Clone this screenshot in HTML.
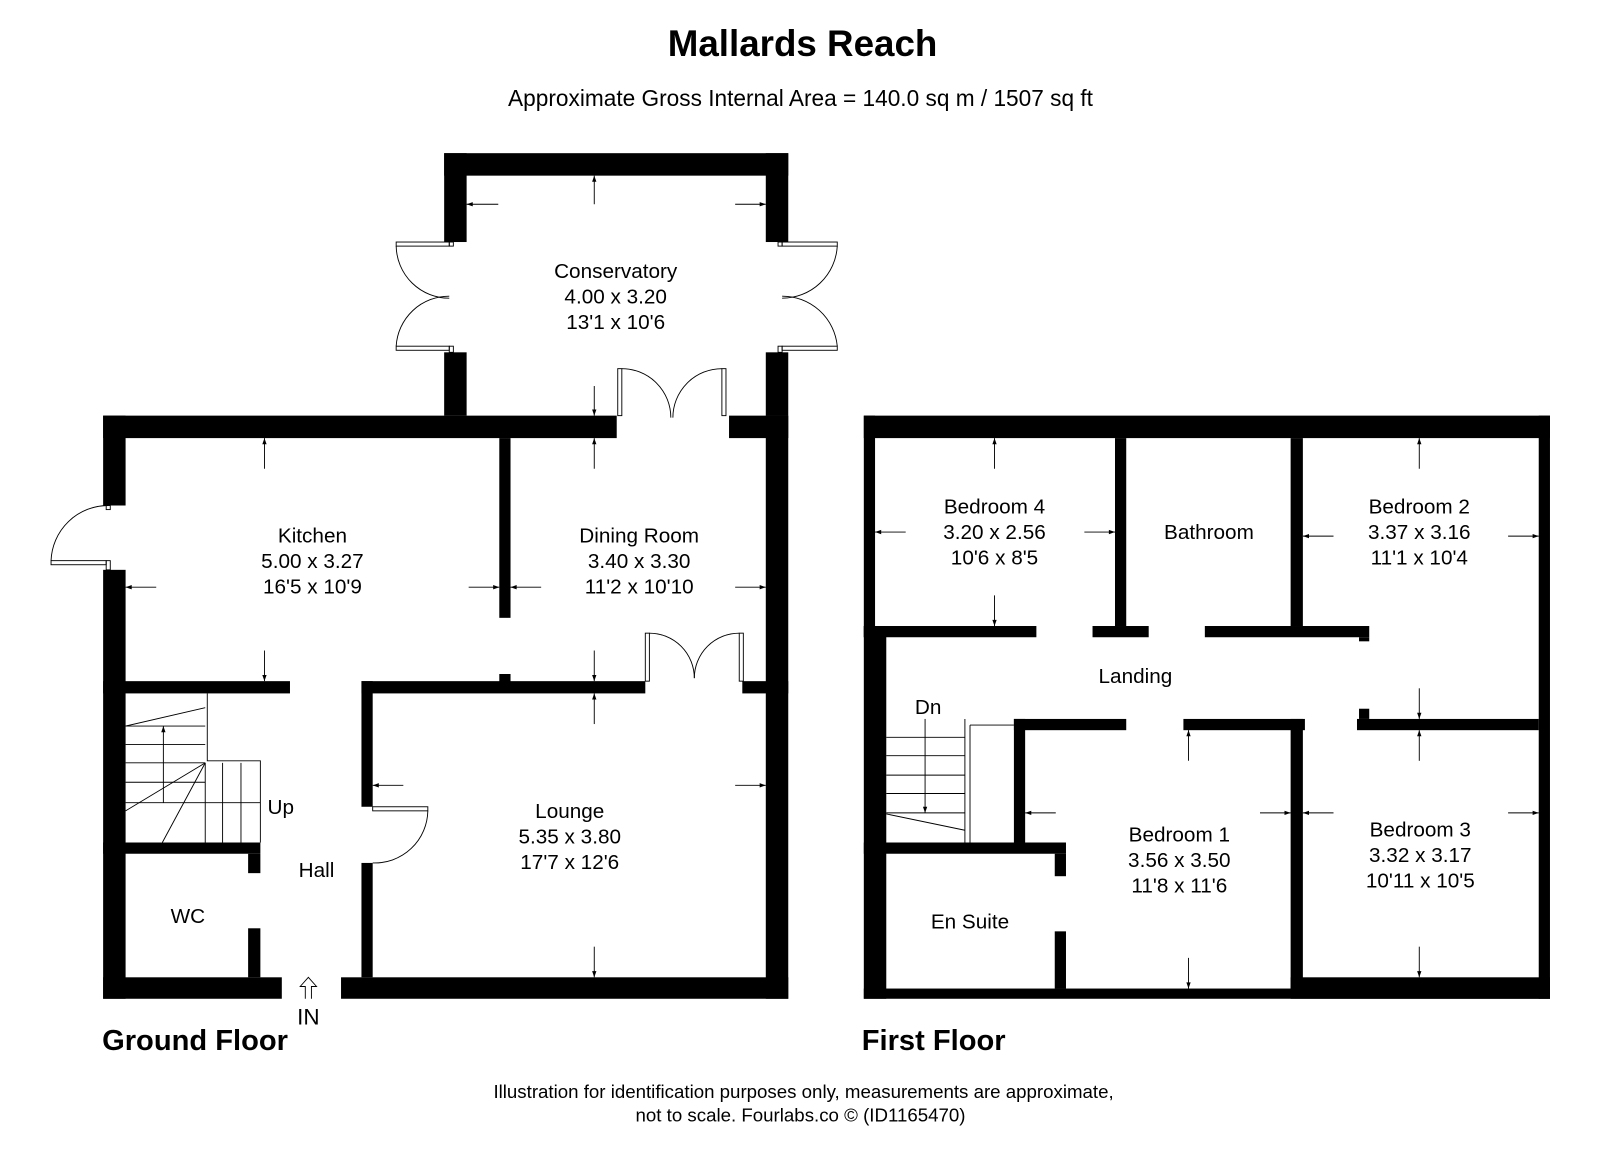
<!DOCTYPE html>
<html><head><meta charset="utf-8"><style>html,body{margin:0;padding:0;background:#fff}svg{display:block}text{font-family:"Liberation Sans",Arial,sans-serif;fill:#000}</style></head>
<body>
<svg width="1600" height="1155" viewBox="0 0 1567 1131" preserveAspectRatio="none" xmlns="http://www.w3.org/2000/svg">
<defs><marker id="a" viewBox="0 0 10 10" refX="10" refY="5" markerWidth="9" markerHeight="6" orient="auto-start-reverse" markerUnits="userSpaceOnUse"><path d="M0,1.5 L10,5 L0,8.5 z" fill="#000"/></marker></defs>
<text x="786" y="55" font-size="36" font-weight="bold" text-anchor="middle">Mallards Reach</text>
<text x="784" y="104" font-size="22.2" text-anchor="middle">Approximate Gross Internal Area = 140.0 sq m / 1507 sq ft</text>

<g fill="#000">
<rect x="435" y="150" width="337" height="22"/>
<rect x="435" y="150" width="22" height="87"/>
<rect x="435" y="345" width="22" height="62"/>
<rect x="750" y="150" width="22" height="87"/>
<rect x="750" y="345" width="22" height="62"/>
<rect x="101" y="407" width="503" height="22"/>
<rect x="714" y="407" width="58" height="22"/>
<rect x="101" y="407" width="22" height="88"/>
<rect x="101" y="558" width="22" height="420"/>
<rect x="750" y="407" width="22" height="571"/>
<rect x="101" y="957" width="175" height="21"/>
<rect x="334" y="957" width="438" height="21"/>
<rect x="489" y="429" width="11" height="176"/>
<rect x="489" y="660" width="11" height="8"/>
<rect x="101" y="667" width="183" height="12"/>
<rect x="354" y="667" width="278" height="12"/>
<rect x="727" y="667" width="45" height="12"/>
<rect x="354" y="667" width="11" height="123"/>
<rect x="354" y="845" width="11" height="112"/>
<rect x="101" y="825" width="154" height="11"/>
<rect x="243" y="836" width="12" height="19"/>
<rect x="243" y="909" width="12" height="48"/>
<rect x="846" y="407" width="672" height="22"/>
<rect x="846" y="407" width="11" height="217"/>
<rect x="846" y="613" width="22" height="365"/>
<rect x="1507" y="407" width="11" height="571"/>
<rect x="846" y="968" width="672" height="10"/>
<rect x="1264" y="957" width="254" height="21"/>
<rect x="1092" y="429" width="11" height="184"/>
<rect x="1264" y="429" width="12" height="184"/>
<rect x="846" y="613" width="169" height="11"/>
<rect x="1070" y="613" width="55" height="11"/>
<rect x="1180" y="613" width="161" height="11"/>
<rect x="1331" y="624" width="10" height="4"/>
<rect x="993" y="704" width="110" height="11"/>
<rect x="1159" y="704" width="119" height="11"/>
<rect x="1329" y="704" width="178" height="11"/>
<rect x="1331" y="694" width="10" height="10"/>
<rect x="1264" y="704" width="12" height="264"/>
<rect x="993" y="704" width="11" height="121"/>
<rect x="846" y="825" width="198" height="11"/>
<rect x="1033" y="836" width="11" height="22"/>
<rect x="1033" y="912" width="11" height="56"/>
</g>

<g fill="none" stroke="#000" stroke-width="0.9">
<rect x="388" y="237" width="52" height="4"/><path d="M388,241 A52,52 0 0 0 440,292"/>
<rect x="388" y="339" width="52" height="4"/><path d="M388,339 A52,52 0 0 1 440,290"/>
<rect x="766" y="237" width="54" height="4"/><path d="M820,241 A54,54 0 0 1 766,292"/>
<rect x="766" y="339" width="54" height="4"/><path d="M820,339 A54,54 0 0 0 766,290"/>
<rect x="440" y="237" width="4" height="4"/><rect x="440" y="339" width="4" height="6"/>
<rect x="762" y="237" width="4" height="4"/><rect x="762" y="339" width="4" height="6"/>
<rect x="605" y="361" width="4" height="46"/><path d="M609,361 A48,48 0 0 1 657,409"/>
<rect x="707" y="361" width="4" height="46"/><path d="M707,361 A48,48 0 0 0 659,409"/>
<rect x="50" y="549" width="54" height="4"/><path d="M50,549 A56,56 0 0 1 106,495"/>
<rect x="104" y="495" width="4" height="4"/><rect x="104" y="549" width="4" height="9"/>
<rect x="632" y="620" width="4" height="47"/><path d="M636,620 A44,44 0 0 1 680,664"/>
<rect x="724" y="620" width="4" height="47"/><path d="M724,620 A44,44 0 0 0 680,664"/>
<rect x="365" y="790" width="54" height="4"/><path d="M419,794 A52,52 0 0 1 365,845"/>
<path d="M203,679 V745 H255 V825"/>
<path d="M201,747 V825 M218,747 V825 M236,747 V825"/>
<path d="M123,711 H201 M123,729 H201 M123,747 H201 M123,766 H201 M123,786 H255"/>
<path d="M123,711 L201,693 M201,747 L123,794 M201,747 L159,825"/>
<path d="M868,722 H945 M868,740 H945 M868,759 H945 M868,777 H945 M868,796 H945"/>
<path d="M945,704 V825 M950,710 V825 M950,710 H993"/>
<path d="M868,797 L945,813"/>
<path d="M299,978 V966 H294 L302,957 L310,966 H305 V978"/>
</g>

<g stroke="#000" stroke-width="0.9" marker-end="url(#a)">
<line x1="160" y1="786" x2="160" y2="711"/>
<line x1="906" y1="704" x2="906" y2="796"/>
<line x1="488" y1="200" x2="457" y2="200"/><line x1="582" y1="200" x2="582" y2="172"/>
<line x1="720" y1="200" x2="750" y2="200"/><line x1="582" y1="378" x2="582" y2="407"/>
<line x1="582" y1="459" x2="582" y2="429"/><line x1="582" y1="637" x2="582" y2="667"/>
<line x1="530" y1="575" x2="500" y2="575"/><line x1="720" y1="575" x2="750" y2="575"/>
<line x1="259" y1="459" x2="259" y2="429"/><line x1="259" y1="637" x2="259" y2="667"/>
<line x1="153" y1="575" x2="123" y2="575"/><line x1="459" y1="575" x2="489" y2="575"/>
<line x1="582" y1="709" x2="582" y2="679"/><line x1="582" y1="927" x2="582" y2="957"/>
<line x1="395" y1="769" x2="365" y2="769"/><line x1="720" y1="769" x2="750" y2="769"/>
<line x1="974" y1="459" x2="974" y2="429"/><line x1="974" y1="583" x2="974" y2="613"/>
<line x1="887" y1="521" x2="857" y2="521"/><line x1="1062" y1="521" x2="1092" y2="521"/>
<line x1="1390" y1="459" x2="1390" y2="429"/><line x1="1390" y1="674" x2="1390" y2="704"/>
<line x1="1306" y1="525" x2="1276" y2="525"/><line x1="1477" y1="525" x2="1507" y2="525"/>
<line x1="1390" y1="745" x2="1390" y2="715"/><line x1="1390" y1="927" x2="1390" y2="957"/>
<line x1="1306" y1="796" x2="1276" y2="796"/><line x1="1477" y1="796" x2="1507" y2="796"/>
<line x1="1164" y1="745" x2="1164" y2="715"/><line x1="1164" y1="938" x2="1164" y2="968"/>
<line x1="1034" y1="796" x2="1004" y2="796"/><line x1="1234" y1="796" x2="1264" y2="796"/>
</g>

<g font-size="20.3" text-anchor="middle">
<text x="603" y="272">Conservatory</text><text x="603" y="297">4.00 x 3.20</text><text x="603" y="322">13'1 x 10'6</text>
<text x="306" y="531">Kitchen</text><text x="306" y="556">5.00 x 3.27</text><text x="306" y="581">16'5 x 10'9</text>
<text x="626" y="531">Dining Room</text><text x="626" y="556">3.40 x 3.30</text><text x="626" y="581">11'2 x 10'10</text>
<text x="558" y="801">Lounge</text><text x="558" y="826">5.35 x 3.80</text><text x="558" y="851">17'7 x 12'6</text>
<text x="275" y="797">Up</text><text x="310" y="859">Hall</text><text x="184" y="904">WC</text>
<text x="302" y="1003" font-size="22">IN</text>
<text x="974" y="503">Bedroom 4</text><text x="974" y="528">3.20 x 2.56</text><text x="974" y="553">10'6 x 8'5</text>
<text x="1184" y="528">Bathroom</text>
<text x="1390" y="503">Bedroom 2</text><text x="1390" y="528">3.37 x 3.16</text><text x="1390" y="553">11'1 x 10'4</text>
<text x="1112" y="669">Landing</text><text x="909" y="699">Dn</text>
<text x="1155" y="824">Bedroom 1</text><text x="1155" y="849">3.56 x 3.50</text><text x="1155" y="874">11'8 x 11'6</text>
<text x="1391" y="819">Bedroom 3</text><text x="1391" y="844">3.32 x 3.17</text><text x="1391" y="869">10'11 x 10'5</text>
<text x="950" y="909">En Suite</text>
</g>
<text x="100" y="1028" font-size="28.5" font-weight="bold">Ground Floor</text>
<text x="844" y="1028" font-size="28.5" font-weight="bold">First Floor</text>
<g font-size="18.3" text-anchor="middle">
<text x="787" y="1075">Illustration for identification purposes only, measurements are approximate,</text>
<text x="784" y="1098">not to scale. Fourlabs.co © (ID1165470)</text>
</g>
</svg>
</body></html>
